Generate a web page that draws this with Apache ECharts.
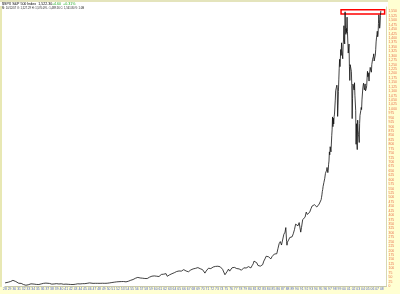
<!DOCTYPE html>
<html><head><meta charset="utf-8">
<script src="https://cdn.jsdelivr.net/npm/echarts@6/dist/echarts.min.js"></script>
<style>html,body{margin:0;padding:0;background:#fff}#c{width:400px;height:294px}</style>
</head><body><div id="c"></div><script>
// ---- header texts ----
const titleMain = '$SPX S&P 500 Index  1,522.30';
const titleChange = '+4.60  +0.31%';
const titleInfo = 'M: 10/12/07 O: 1,527.29 H: 1,576.09 L: 1,489.56 C: 1,561.80 V: 1.0B';

// ---- data: [YYYY-MM, close] ----
const spx1928to1949 = [
 ['1928-01',17.6],['1928-03',19.3],['1928-06',19.7],['1928-09',21.5],['1928-12',24.4],
 ['1929-03',25.4],['1929-06',29.4],['1929-09',31.9],['1929-10',23.5],['1929-11',20.4],['1929-12',21.5],
 ['1930-04',25.5],['1930-06',20.5],['1930-09',21.0],['1930-12',15.3],
 ['1931-02',18.1],['1931-06',14.8],['1931-09',9.7],['1931-12',8.1],
 ['1932-03',7.3],['1932-06',4.4],['1932-09',8.1],['1932-12',6.9],
 ['1933-03',5.7],['1933-07',12.2],['1933-09',9.6],['1933-12',10.1],
 ['1934-03',10.7],['1934-06',9.9],['1934-09',8.9],['1934-12',9.5],
 ['1935-03',8.4],['1935-06',10.2],['1935-09',11.8],['1935-12',13.4],
 ['1936-03',15.0],['1936-06',14.7],['1936-09',16.3],['1936-12',17.2],
 ['1937-02',18.1],['1937-06',14.6],['1937-09',13.8],['1937-12',10.5],
 ['1938-03',8.5],['1938-06',11.6],['1938-09',12.1],['1938-12',13.2],
 ['1939-03',11.3],['1939-06',11.4],['1939-09',13.0],['1939-12',12.5],
 ['1940-03',12.2],['1940-06',9.7],['1940-09',10.5],['1940-12',10.6],
 ['1941-03',9.95],['1941-06',9.6],['1941-09',10.0],['1941-12',8.7],
 ['1942-04',7.5],['1942-06',8.3],['1942-09',8.7],['1942-12',9.8],
 ['1943-03',11.6],['1943-06',12.4],['1943-09',11.8],['1943-12',11.7],
 ['1944-03',12.0],['1944-06',13.1],['1944-09',12.8],['1944-12',13.3],
 ['1945-03',13.5],['1945-06',15.1],['1945-09',16.0],['1945-12',17.4],
 ['1946-03',17.6],['1946-05',19.3],['1946-09',14.9],['1946-12',15.3],
 ['1947-03',15.2],['1947-06',15.2],['1947-09',15.1],['1947-12',15.3],
 ['1948-03',15.0],['1948-06',16.7],['1948-09',15.5],['1948-12',15.2],
 ['1949-03',15.1],['1949-06',14.2],['1949-09',15.6],['1949-12',16.8]
];
const spx1950to1994 = [
 ['1950-03',17.3],['1950-06',17.7],['1950-09',19.5],['1950-12',20.4],
 ['1951-03',21.5],['1951-06',21.0],['1951-09',23.3],['1951-12',23.8],
 ['1952-03',24.4],['1952-06',25.0],['1952-09',25.0],['1952-12',26.6],
 ['1953-03',25.3],['1953-06',24.1],['1953-09',23.4],['1953-12',24.8],
 ['1954-03',26.9],['1954-06',29.2],['1954-09',32.3],['1954-12',36.0],
 ['1955-03',36.6],['1955-06',41.0],['1955-09',43.7],['1955-12',45.5],
 ['1956-03',48.5],['1956-06',47.0],['1956-09',45.4],['1956-12',46.7],
 ['1957-03',44.1],['1957-06',47.4],['1957-09',42.4],['1957-12',40.0],
 ['1958-03',42.1],['1958-06',45.2],['1958-09',50.1],['1958-12',55.2],
 ['1959-03',55.4],['1959-06',58.5],['1959-09',56.9],['1959-12',59.9],
 ['1960-03',55.3],['1960-06',56.9],['1960-09',53.5],['1960-12',58.1],
 ['1961-03',65.1],['1961-06',64.6],['1961-09',66.7],['1961-12',71.6],
 ['1962-03',69.6],['1962-06',54.8],['1962-09',56.3],['1962-12',63.1],
 ['1963-03',66.6],['1963-06',69.4],['1963-09',71.7],['1963-12',75.0],
 ['1964-03',79.0],['1964-06',81.7],['1964-09',84.2],['1964-12',84.8],
 ['1965-03',86.2],['1965-06',84.1],['1965-09',90.0],['1965-12',92.4],
 ['1966-03',89.2],['1966-06',84.7],['1966-09',76.6],['1966-12',80.3],
 ['1967-03',90.2],['1967-06',90.6],['1967-09',96.7],['1967-12',96.5],
 ['1968-03',90.2],['1968-06',99.6],['1968-09',102.7],['1968-11',108.4],['1968-12',103.9],
 ['1969-03',101.5],['1969-06',97.7],['1969-09',93.1],['1969-12',92.1],
 ['1970-03',89.6],['1970-06',72.7],['1970-09',84.2],['1970-12',92.2],
 ['1971-03',100.3],['1971-06',99.7],['1971-09',98.3],['1971-12',102.1],
 ['1972-03',107.2],['1972-06',107.1],['1972-09',110.6],['1972-12',118.1],
 ['1973-03',111.5],['1973-06',104.3],['1973-09',108.4],['1973-12',97.6],
 ['1974-03',94.0],['1974-06',86.0],['1974-09',63.5],['1974-12',68.6],
 ['1975-03',83.4],['1975-06',95.2],['1975-09',83.9],['1975-12',90.2],
 ['1976-03',102.8],['1976-06',104.3],['1976-09',105.2],['1976-12',107.5],
 ['1977-03',98.4],['1977-06',100.5],['1977-09',96.5],['1977-12',95.1],
 ['1978-03',89.2],['1978-06',95.5],['1978-09',102.5],['1978-12',96.1],
 ['1979-03',101.6],['1979-06',102.9],['1979-09',109.3],['1979-12',107.9],
 ['1980-03',102.1],['1980-06',114.2],['1980-09',125.5],['1980-11',140.5],['1980-12',135.8],
 ['1981-03',136.0],['1981-06',131.2],['1981-09',116.2],['1981-12',122.6],
 ['1982-03',112.0],['1982-07',107.1],['1982-09',120.4],['1982-12',140.6],
 ['1983-03',153.0],['1983-06',168.1],['1983-09',166.1],['1983-12',164.9],
 ['1984-03',159.2],['1984-06',153.2],['1984-09',166.1],['1984-12',167.2],
 ['1985-03',180.7],['1985-06',191.9],['1985-09',182.1],['1985-12',211.3],
 ['1986-03',238.9],['1986-06',250.8],['1986-09',231.3],['1986-12',242.2],
 ['1987-03',291.7],['1987-06',304.0],['1987-08',329.8],['1987-10',251.8],['1987-11',230.3],['1987-12',247.1],
 ['1988-03',258.9],['1988-06',273.5],['1988-09',271.9],['1988-12',277.7],
 ['1989-03',294.9],['1989-06',318.0],['1989-09',349.2],['1989-12',353.4],
 ['1990-03',339.9],['1990-06',358.0],['1990-07',356.2],['1990-10',304.0],['1990-12',330.2],
 ['1991-03',375.2],['1991-06',371.2],['1991-09',387.9],['1991-12',417.1],
 ['1992-03',403.7],['1992-06',408.1],['1992-09',417.8],['1992-12',435.7],
 ['1993-03',451.7],['1993-06',450.5],['1993-09',458.9],['1993-12',466.5],
 ['1994-03',445.8],['1994-06',444.3],['1994-09',462.7],['1994-12',459.3]
];
// monthly closes Jan..Dec
const spx1995 = [470.4,487.4,500.7,514.7,533.4,544.8,562.1,561.9,584.4,581.5,605.4,615.9];
const spx1996 = [636.0,640.4,645.5,654.2,669.1,670.6,639.9,652.0,687.3,705.3,757.0,740.7];
const spx1997 = [786.2,790.8,757.1,801.3,848.3,885.1,954.3,899.5,947.3,914.6,955.4,970.4];
const spx1998 = [980.3,1049.3,1101.8,1111.8,1090.8,1133.8,1120.7,957.3,1017.0,1098.7,1163.6,1229.2];
const spx1999 = [1279.6,1238.3,1286.4,1335.2,1301.8,1372.7,1328.7,1320.4,1282.7,1362.9,1389.0,1469.3];
const spx2000 = [1394.5,1366.4,1548.0,1452.4,1420.6,1454.6,1430.8,1517.7,1436.5,1429.4,1315.0,1320.3];
const spx2001 = [1366.0,1239.9,1160.3,1249.5,1255.8,1224.4,1211.2,1133.6,945.0,1059.8,1139.5,1148.1];
const spx2002 = [1130.2,1106.7,1147.4,1076.9,1067.1,989.8,800.0,916.1,815.3,770.0,936.3,879.8];
const spx2003 = [855.7,841.2,810.0,916.9,963.6,974.5,990.3,1008.0,996.0,1050.7,1058.2,1111.9];
const spx2004 = [1131.1,1144.9,1126.2,1107.3,1120.7,1140.8,1101.7,1104.2,1114.6,1130.2,1173.8,1211.9];
const spx2005 = [1181.3,1203.6,1180.6,1156.9,1191.5,1191.3,1234.2,1220.3,1228.8,1207.0,1249.5,1248.3];
const spx2006 = [1280.1,1280.7,1294.9,1310.6,1270.1,1270.2,1276.7,1303.8,1335.9,1377.9,1400.6,1418.3];
const spx2007 = [1438.2,1406.8,1420.9,1482.4,1530.6,1503.4,1455.3,1474.0,1526.8,1552.0];
const monthlyYears = [1995,1996,1997,1998,1999,2000,2001,2002,2003,2004,2005,2006,2007];
const monthlyBlocks = [spx1995,spx1996,spx1997,spx1998,spx1999,spx2000,spx2001,spx2002,spx2003,spx2004,spx2005,spx2006,spx2007];

// resistance box annotation [x-year, price]
const resistanceBox = [[1999.35, 1535], [2008.6, 1559]];

// axis ranges
const xMin = 1928, xMax = 2009, xStep = 1;
const yMin = 0, yMax = 1575, yStep = 25;

// ---- build series ----
function toT(s){ const [y,m] = s.split('-').map(Number); return y + (m - 0.5) / 12; }
const seriesData = [];
spx1928to1949.concat(spx1950to1994).forEach(([d,v]) => seriesData.push([toT(d), v]));
monthlyBlocks.forEach((blk, bi) => blk.forEach((v, mi) => seriesData.push([monthlyYears[bi] + (mi + 0.5) / 12, v])));

const chart = echarts.init(document.getElementById('c'), null, {renderer: 'canvas'});
const FONT = 'Liberation Sans';
chart.setOption({
  animation: false,
  backgroundColor: '#ffffff',
  graphic: [
    {type:'rect', shape:{x:0,y:0,width:400,height:2}, style:{fill:'#E4E4BC'}, z:-10},
    {type:'rect', shape:{x:0,y:6,width:2,height:288}, style:{fill:'#E8E8B4'}, z:-10},
    {type:'rect', shape:{x:388,y:0,width:12,height:294}, style:{fill:'#FFFFD2'}, z:-10},
    {type:'rect', shape:{x:0,y:287,width:400,height:7}, style:{fill:'#FFFFD2'}, z:-10},
    {type:'text', x:2, y:2, style:{text:titleMain, fontSize:3.6, fontFamily:FONT, fill:'#000'}},
    {type:'text', x:52, y:2, style:{text:titleChange, fontSize:3.6, fontFamily:FONT, fill:'#1FAA1F'}},
    {type:'text', x:2, y:6.5, style:{text:titleInfo, fontSize:2.7, fontFamily:FONT, fill:'#222'}}
  ],
  grid: {left: 2, right: 12, top: 7, bottom: 8, show: false},
  xAxis: {
    type: 'value', min: xMin, max: xMax, interval: xStep,
    axisLine: {show: true, lineStyle: {color: '#C8C8A8', width: 1}},
    axisTick: {show: false}, splitLine: {show: false},
    axisLabel: {
      show: true, fontSize: 3.4, fontFamily: FONT, color: '#4F63D0', margin: 2,
      hideOverlap: false, showMaxLabel: false,
      formatter: v => String(v % 100).padStart(2, '0')
    }
  },
  yAxis: {
    type: 'value', position: 'right', min: yMin, max: yMax, interval: yStep,
    axisLine: {show: true, lineStyle: {color: '#D8D8B0', width: 1}},
    axisTick: {show: false}, splitLine: {show: false},
    axisLabel: {
      show: true, fontSize: 3.4, fontFamily: FONT, color: '#E8704E', margin: 2,
      hideOverlap: false, showMaxLabel: false, align: 'left',
      formatter: v => v.toLocaleString('en-US')
    }
  },
  series: [{
    type: 'line', data: seriesData, showSymbol: false, symbol: 'none',
    lineStyle: {color: '#111', width: 0.8}, silent: true,
    markArea: {
      silent: true,
      itemStyle: {color: 'rgba(0,0,0,0)', borderColor: '#FF0000', borderWidth: 1.5},
      data: [[{xAxis: resistanceBox[0][0], yAxis: resistanceBox[0][1]}, {xAxis: resistanceBox[1][0], yAxis: resistanceBox[1][1]}]]
    }
  }]
});
</script></body></html>
